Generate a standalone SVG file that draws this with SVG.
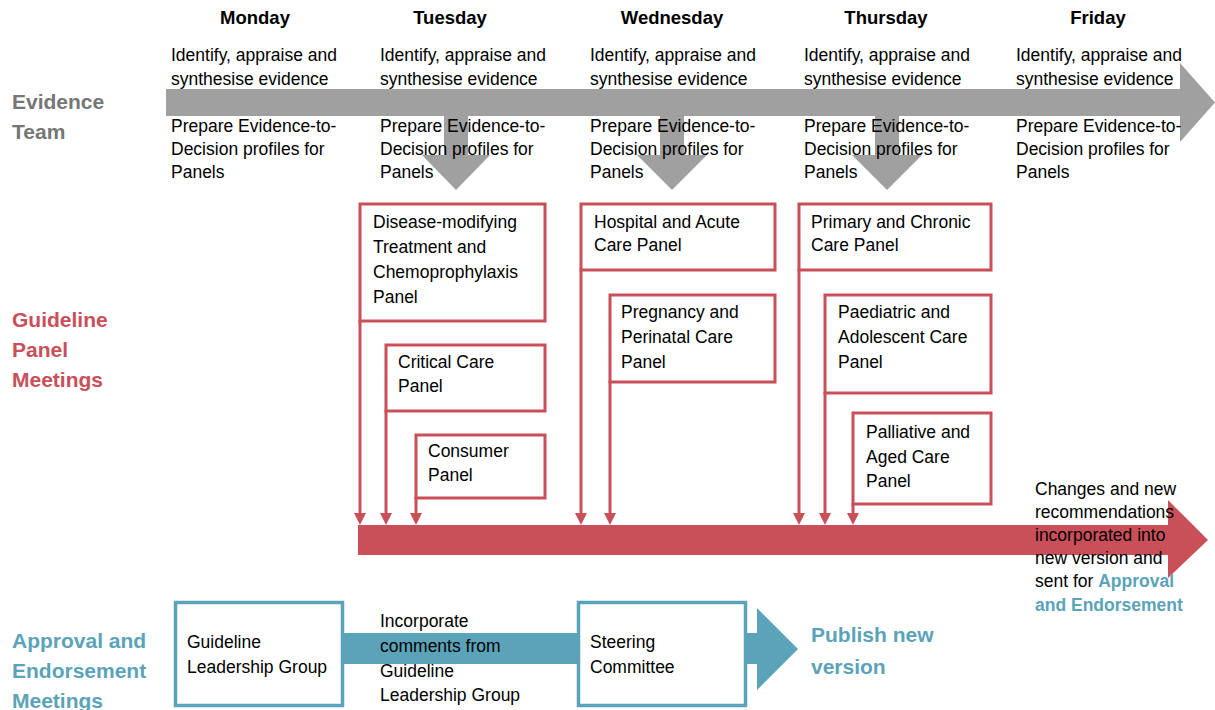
<svg xmlns="http://www.w3.org/2000/svg" width="1215" height="710" viewBox="0 0 1215 710">
<defs>
<style>
text{font-family:"Liberation Sans",Arial,sans-serif;fill:#000;}
.day{font-size:18.5px;font-weight:bold;text-anchor:middle;}
.t{font-size:17.5px;}
.lane{font-size:21px;font-weight:bold;}
.gray{fill:#767676;}
.red{fill:#c94f59;}
.blue{fill:#5ba3b8;}
.bl{fill:#5ba3b8;font-weight:bold;}
.rbox{fill:#fff;stroke:#c94f59;stroke-width:3;}
.bbox{fill:#fff;stroke:#5ba3b8;stroke-width:3.5;}
.rline{stroke:#c94f59;stroke-width:3;fill:none;marker-end:url(#rh);}
</style>
<marker id="rh" viewBox="0 0 12 12" refX="0" refY="6" markerWidth="12" markerHeight="12" markerUnits="userSpaceOnUse" orient="auto">
<path d="M0,0 L12,6 L0,12 Z" fill="#c94f59"/>
</marker>
</defs>
<rect width="1215" height="710" fill="#fff"/>

<g id="connectors">
<path id="evidence-arrow" d="M166,89 L1180,89 L1180,63 L1215,102.5 L1180,142 L1180,116 L166,116 Z" fill="#a0a0a0"/>
<path d="M444,116 L468,116 L468,155 L490,155 L456,190 L422,155 L444,155 Z" fill="#a0a0a0"/>
<path d="M660,116 L684,116 L684,155 L707,155 L672,190 L637,155 L660,155 Z" fill="#a0a0a0"/>
<path d="M875,116 L899,116 L899,155 L922,155 L887,190 L852,155 L875,155 Z" fill="#a0a0a0"/>
<path id="panel-arrow" d="M358,525 L1168,525 L1168,500 L1208,540 L1168,578 L1168,555 L358,555 Z" fill="#c94f59"/>
<line class="rline" x1="360" y1="320" x2="360" y2="513"/>
<line class="rline" x1="386" y1="410" x2="386" y2="513"/>
<line class="rline" x1="416" y1="497" x2="416" y2="513"/>
<line class="rline" x1="581" y1="269" x2="581" y2="513"/>
<line class="rline" x1="610" y1="381" x2="610" y2="513"/>
<line class="rline" x1="799" y1="269" x2="799" y2="513"/>
<line class="rline" x1="825" y1="392" x2="825" y2="513"/>
<line class="rline" x1="853" y1="503" x2="853" y2="513"/>
<rect x="344" y="633" width="234" height="31" fill="#5ba3b8"/>
<path d="M746,633 L757,633 L757,608 L798,649 L757,690 L757,664 L746,664 Z" fill="#5ba3b8"/>
</g>

<g id="days">
<text class="day" x="255" y="24">Monday</text>
<text class="day" x="450" y="24">Tuesday</text>
<text class="day" x="672" y="24">Wednesday</text>
<text class="day" x="886" y="24">Thursday</text>
<text class="day" x="1098" y="24">Friday</text>
</g>

<g id="lanes">
<text class="lane gray" x="12" y="109">Evidence</text>
<text class="lane gray" x="12" y="139">Team</text>
<text class="lane red" x="12" y="327">Guideline</text>
<text class="lane red" x="12" y="357">Panel</text>
<text class="lane red" x="12" y="387">Meetings</text>
<text class="lane blue" x="12" y="648">Approval and</text>
<text class="lane blue" x="12" y="678">Endorsement</text>
<text class="lane blue" x="12" y="708">Meetings</text>
</g>

<g id="evidence-texts" class="t">
<text class="t" x="171" y="61">Identify, appraise and</text>
<text class="t" x="171" y="85">synthesise evidence</text>
<text class="t" x="171" y="132">Prepare Evidence-to-</text>
<text class="t" x="171" y="155">Decision profiles for</text>
<text class="t" x="171" y="178">Panels</text>
<text class="t" x="380" y="61">Identify, appraise and</text>
<text class="t" x="380" y="85">synthesise evidence</text>
<text class="t" x="380" y="132">Prepare Evidence-to-</text>
<text class="t" x="380" y="155">Decision profiles for</text>
<text class="t" x="380" y="178">Panels</text>
<text class="t" x="590" y="61">Identify, appraise and</text>
<text class="t" x="590" y="85">synthesise evidence</text>
<text class="t" x="590" y="132">Prepare Evidence-to-</text>
<text class="t" x="590" y="155">Decision profiles for</text>
<text class="t" x="590" y="178">Panels</text>
<text class="t" x="804" y="61">Identify, appraise and</text>
<text class="t" x="804" y="85">synthesise evidence</text>
<text class="t" x="804" y="132">Prepare Evidence-to-</text>
<text class="t" x="804" y="155">Decision profiles for</text>
<text class="t" x="804" y="178">Panels</text>
<text class="t" x="1016" y="61">Identify, appraise and</text>
<text class="t" x="1016" y="85">synthesise evidence</text>
<text class="t" x="1016" y="132">Prepare Evidence-to-</text>
<text class="t" x="1016" y="155">Decision profiles for</text>
<text class="t" x="1016" y="178">Panels</text>
</g>

<g id="disease-modifying-panel">
<rect class="rbox" x="360" y="204" width="185" height="117"/>
<text class="t" x="373" y="228">Disease-modifying</text>
<text class="t" x="373" y="253">Treatment and</text>
<text class="t" x="373" y="278">Chemoprophylaxis</text>
<text class="t" x="373" y="303">Panel</text>
</g>
<g id="critical-care-panel">
<rect class="rbox" x="386" y="345" width="159" height="66"/>
<text class="t" x="398" y="368">Critical Care</text>
<text class="t" x="398" y="392">Panel</text>
</g>
<g id="consumer-panel">
<rect class="rbox" x="416" y="435" width="129" height="63"/>
<text class="t" x="428" y="457">Consumer</text>
<text class="t" x="428" y="481">Panel</text>
</g>
<g id="hospital-panel">
<rect class="rbox" x="581" y="204" width="194" height="66"/>
<text class="t" x="594" y="228">Hospital and Acute</text>
<text class="t" x="594" y="251">Care Panel</text>
</g>
<g id="pregnancy-panel">
<rect class="rbox" x="610" y="295" width="165" height="87"/>
<text class="t" x="621" y="318">Pregnancy and</text>
<text class="t" x="621" y="343">Perinatal Care</text>
<text class="t" x="621" y="368">Panel</text>
</g>
<g id="primary-panel">
<rect class="rbox" x="799" y="204" width="192" height="66"/>
<text class="t" x="811" y="228">Primary and Chronic</text>
<text class="t" x="811" y="251">Care Panel</text>
</g>
<g id="paediatric-panel">
<rect class="rbox" x="825" y="295" width="166" height="98"/>
<text class="t" x="838" y="318">Paediatric and</text>
<text class="t" x="838" y="343">Adolescent Care</text>
<text class="t" x="838" y="368">Panel</text>
</g>
<g id="palliative-panel">
<rect class="rbox" x="853" y="413" width="138" height="91"/>
<text class="t" x="866" y="438">Palliative and</text>
<text class="t" x="866" y="463">Aged Care</text>
<text class="t" x="866" y="487">Panel</text>
</g>

<g id="changes-note">
<text class="t" x="1035" y="495">Changes and new</text>
<text class="t" x="1035" y="518">recommendations</text>
<text class="t" x="1035" y="541">incorporated into</text>
<text class="t" x="1035" y="564">new version and</text>
<text class="t" x="1035" y="587">sent for <tspan class="bl">Approval</tspan></text>
<text class="t bl" x="1035" y="611">and Endorsement</text>
</g>

<g id="leadership-group">
<rect class="bbox" x="175.5" y="602.5" width="167" height="103"/>
<text class="t" x="187" y="648">Guideline</text>
<text class="t" x="187" y="673">Leadership Group</text>
</g>
<g id="incorporate-note">
<text class="t" x="380" y="627">Incorporate</text>
<text class="t" x="380" y="652">comments from</text>
<text class="t" x="380" y="677">Guideline</text>
<text class="t" x="380" y="701">Leadership Group</text>
</g>
<g id="steering-committee">
<rect class="bbox" x="578.5" y="602.5" width="167" height="103"/>
<text class="t" x="590" y="648">Steering</text>
<text class="t" x="590" y="673">Committee</text>
</g>
<g id="publish">
<text class="lane blue" x="811" y="642">Publish new</text>
<text class="lane blue" x="811" y="674">version</text>
</g>
</svg>
